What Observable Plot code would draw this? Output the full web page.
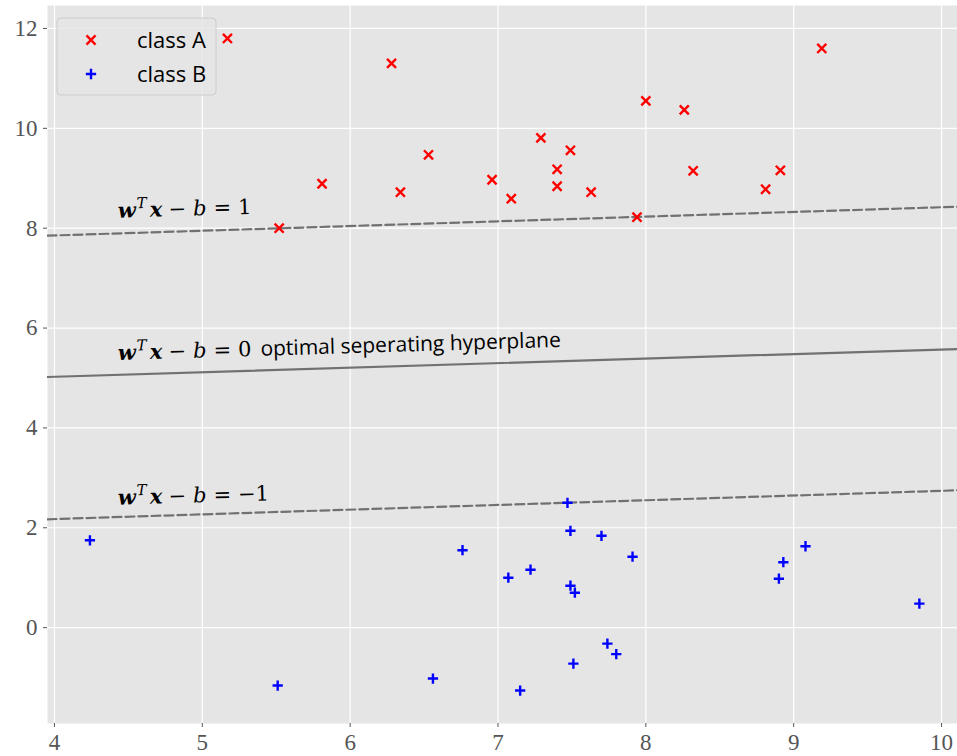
<!DOCTYPE html>
<html>
<head>
<meta charset="utf-8">
<script src="https://cdn.jsdelivr.net/npm/d3@7"></script>
<script src="https://cdn.jsdelivr.net/npm/@observablehq/plot@0.6"></script>
<style>
  html, body { margin: 0; padding: 0; background: #ffffff; }
  #chart { width: 957px; height: 756px; }
</style>
</head>
<body>
<div id="chart"></div>
<script>
// Two linearly separable classes and an SVM margin.
const classAX = [5.17, 6.28, 9.19, 8.00, 8.26, 7.29, 6.53, 7.49, 7.40, 8.32, 8.91, 6.96, 5.81, 7.40, 6.34, 7.63, 8.81, 7.09, 7.94, 5.52];
const classAY = [11.80, 11.30, 11.60, 10.55, 10.37, 9.81, 9.47, 9.56, 9.18, 9.15, 9.16, 8.97, 8.89, 8.84, 8.72, 8.72, 8.78, 8.59, 8.22, 8.00];
const classBX = [4.24, 5.51, 6.56, 6.76, 7.07, 7.15, 7.22, 7.47, 7.49, 7.49, 7.52, 7.51, 7.70, 7.74, 7.80, 7.91, 8.90, 8.93, 9.08, 9.85];
const classBY = [1.75, -1.16, -1.02, 1.55, 1.00, -1.26, 1.16, 2.50, 1.94, 0.84, 0.70, -0.72, 1.84, -0.32, -0.53, 1.42, 0.98, 1.31, 1.63, 0.48];

// Separating hyperplane and margin boundaries, sampled at the left and right edges.
const lineX = [3.953, 10.108];
const hyperplaneY = [5.02, 5.58];
const upperMarginY = [7.85, 8.43];
const lowerMarginY = [2.17, 2.75];

// Equation labels: right-hand side, anchor and extra caption.
const labelRHS = ["1", "0", "\u22121"];
const labelX = [4.43, 4.43, 4.43];
const labelY = [8.21, 5.36, 2.46];
const labelNote = ["", "optimal seperating hyperplane", ""];

const xTicks = [4, 5, 6, 7, 8, 9, 10];
const yTicks = [0, 2, 4, 6, 8, 10, 12];
const legendNames = ["class A", "class B"];

const pointsA = classAX.map((x, i) => ({x, y: classAY[i]}));
const pointsB = classBX.map((x, i) => ({x, y: classBY[i]}));
const toLine = ys => lineX.map((x, i) => ({x, y: ys[i]}));
const labels = labelRHS.map((r, i) => ({x: labelX[i], y: labelY[i], key: "eq" + i}));

const serif = "'Liberation Serif', 'DejaVu Serif', serif";
const mathSerif = "'DejaVu Serif', 'Liberation Serif', serif";
const sans = "'Open Sans', 'DejaVu Sans', sans-serif";
const lineColor = "#717171";
const dash = "9,4";
const tilt = -1.7;

const chart = Plot.plot({
  width: 957,
  height: 756,
  marginLeft: 47,
  marginRight: 0,
  marginTop: 5,
  marginBottom: 33,
  style: {fontFamily: serif, fontSize: "23px", color: "#555555", background: "#ffffff"},
  x: {domain: [3.953, 10.108]},
  y: {domain: [-1.92, 12.46]},
  marks: [
    Plot.frame({fill: "#e5e5e5", stroke: null}),
    Plot.gridX(xTicks, {stroke: "#ffffff", strokeOpacity: 1, strokeWidth: 1.2}),
    Plot.gridY(yTicks, {stroke: "#ffffff", strokeOpacity: 1, strokeWidth: 1.2}),
    Plot.axisX(xTicks, {tickSize: 4, tickPadding: 6, tickFormat: d3.format("d"), stroke: "#555555", fill: "#555555", fontSize: 23, fontFamily: serif, label: null}),
    Plot.axisY(yTicks, {tickSize: 4, tickPadding: 6, tickFormat: d3.format("d"), stroke: "#555555", fill: "#555555", fontSize: 23, fontFamily: serif, label: null}),
    Plot.line(toLine(hyperplaneY), {x: "x", y: "y", stroke: lineColor, strokeWidth: 2.2, clip: true}),
    Plot.line(toLine(upperMarginY), {x: "x", y: "y", stroke: lineColor, strokeWidth: 2.2, strokeDasharray: dash, clip: true}),
    Plot.line(toLine(lowerMarginY), {x: "x", y: "y", stroke: lineColor, strokeWidth: 2.2, strokeDasharray: dash, clip: true}),
    Plot.text(labels, {x: "x", y: "y", text: "key", textAnchor: "start", lineAnchor: "bottom", rotate: tilt, fill: "#000000", fontSize: 21, fontFamily: mathSerif}),
    Plot.dot(pointsA, {x: "x", y: "y", symbol: "times", r: 4.2, stroke: "#ff0000", strokeWidth: 2.4}),
    Plot.dot(pointsB, {x: "x", y: "y", symbol: "plus", r: 3.4, stroke: "#0000ff", strokeWidth: 2.4})
  ]
});

// Typeset the equation labels as  w^T x − b = c  with tspans.
const svg = d3.select(chart);
svg.selectAll("text").each(function() {
  const t = d3.select(this);
  const key = t.text();
  if (!/^eq\d$/.test(key)) return;
  const i = +key.slice(2);
  t.text(null);
  t.append("tspan").attr("font-weight", "bold").attr("font-style", "italic").text("w");
  t.append("tspan").attr("font-style", "italic").attr("font-size", 15).attr("dy", -9).attr("dx", 1).text("T");
  t.append("tspan").attr("font-weight", "bold").attr("font-style", "italic").attr("dy", 9).attr("dx", 3).text("x");
  t.append("tspan").attr("dx", 6).text("\u2212");
  t.append("tspan").attr("font-style", "italic").attr("dx", 7).text("b");
  t.append("tspan").attr("dx", 7).text("=");
  t.append("tspan").attr("dx", 7).text(labelRHS[i]);
  if (labelNote[i]) {
    t.append("tspan").attr("font-family", sans).attr("dx", 9).text(labelNote[i]);
  }
});

// Legend box in the upper-left corner of the axes.
const legend = svg.append("g");
legend.append("rect")
  .attr("x", 57).attr("y", 18).attr("width", 159).attr("height", 77)
  .attr("rx", 4).attr("fill", "#e5e5e5").attr("fill-opacity", 0.8)
  .attr("stroke", "#cccccc").attr("stroke-width", 1);
const legendSymbols = [
  {type: d3.symbolTimes, color: "#ff0000", r: 4.2},
  {type: d3.symbolPlus, color: "#0000ff", r: 3.4}
];
legendNames.forEach((name, i) => {
  const cy = 40 + i * 34;
  const s = legendSymbols[i];
  legend.append("path")
    .attr("transform", `translate(91,${cy})`)
    .attr("d", d3.symbol(s.type, s.r * s.r * Math.PI)())
    .attr("fill", "none")
    .attr("stroke", s.color)
    .attr("stroke-width", 2.4);
  legend.append("text")
    .attr("x", 137).attr("y", cy + 8)
    .attr("text-anchor", "start")
    .attr("font-family", sans).attr("font-size", 22).attr("fill", "#000000")
    .text(name);
});

document.getElementById("chart").appendChild(chart);
</script>
</body>
</html>
